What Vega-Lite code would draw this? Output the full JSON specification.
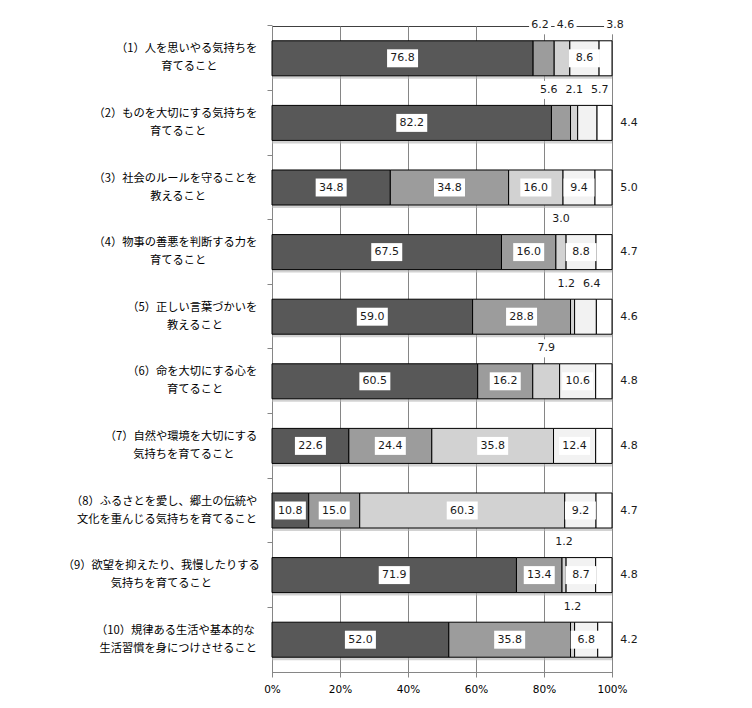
{
  "$schema": "https://vega.github.io/schema/vega-lite/v6.json",
  "width": 340,
  "height": 646,
  "autosize": "none",
  "padding": {"left": 272, "top": 26, "right": 140, "bottom": 36},
  "background": "white",
  "config": {"view": {"stroke": "#404040", "strokeWidth": 1}, "font": "DejaVu Sans"},
  "data": {
    "values": [
      {"item": "（1）人を思いやる気持ちを\n育てること", "s1": 76.8, "s2": 6.2, "s3": 4.6, "s4": 8.6, "s5": 3.8},
      {"item": "（2）ものを大切にする気持ちを\n育てること", "s1": 82.2, "s2": 5.6, "s3": 2.1, "s4": 5.7, "s5": 4.4},
      {"item": "（3）社会のルールを守ることを\n教えること", "s1": 34.8, "s2": 34.8, "s3": 16.0, "s4": 9.4, "s5": 5.0},
      {"item": "（4）物事の善悪を判断する力を\n育てること", "s1": 67.5, "s2": 16.0, "s3": 3.0, "s4": 8.8, "s5": 4.7},
      {"item": "（5）正しい言葉づかいを\n教えること", "s1": 59.0, "s2": 28.8, "s3": 1.2, "s4": 6.4, "s5": 4.6},
      {"item": "（6）命を大切にする心を\n育てること", "s1": 60.5, "s2": 16.2, "s3": 7.9, "s4": 10.6, "s5": 4.8},
      {"item": "（7）自然や環境を大切にする\n気持ちを育てること", "s1": 22.6, "s2": 24.4, "s3": 35.8, "s4": 12.4, "s5": 4.8},
      {"item": "（8）ふるさとを愛し、郷土の伝統や\n文化を重んじる気持ちを育てること", "s1": 10.8, "s2": 15.0, "s3": 60.3, "s4": 9.2, "s5": 4.7},
      {"item": "（9）欲望を抑えたり、我慢したりする\n気持ちを育てること", "s1": 71.9, "s2": 13.4, "s3": 1.2, "s4": 8.7, "s5": 4.8},
      {"item": "（10）規律ある生活や基本的な\n生活習慣を身につけさせること", "s1": 52.0, "s2": 35.8, "s3": 1.2, "s4": 6.8, "s5": 4.2}
    ]
  },
  "transform": [
    {"fold": ["s1", "s2", "s3", "s4", "s5"], "as": ["series", "value"]},
    {"stack": "value", "groupby": ["item"], "sort": [{"field": "series", "order": "ascending"}], "as": ["x0", "x1"]},
    {"calculate": "(datum.x0 + datum.x1) / 2", "as": "mid"},
    {"calculate": "datum.series == 's5' ? (indexof(datum.item, '（1）') == 0 ? 'corner' : 'right') : (datum.value < (datum.series == 's4' ? 6.5 : 10) ? 'above' : 'inside')", "as": "place"}
  ],
  "encoding": {
    "y": {
      "field": "item",
      "type": "nominal",
      "sort": null,
      "scale": {"type": "band", "paddingInner": 0.458, "paddingOuter": 0.229},
      "axis": {
        "title": null,
        "labelExpr": "isString(datum.label) && indexof(datum.label, '\\n') > 0 ? ['\u200b' + pad(split(datum.label, '\\n')[0], length(split(datum.label, '\\n')[0]) + 18 - max(length(split(datum.label, '\\n')[0]), length(split(datum.label, '\\n')[1])), '　', 'left'), '\u200b' + pad(split(datum.label, '\\n')[1], length(split(datum.label, '\\n')[1]) + 18 - max(length(split(datum.label, '\\n')[0]), length(split(datum.label, '\\n')[1])), '　', 'left')] : datum.label",
        "labelAlign": "center",
        "labelBaseline": "middle",
        "labelFont": "Noto Sans CJK JP",
        "labelFontSize": 11.25,
        "labelLineHeight": 18,
        "labelOffset": -9,
        "labelPadding": 106.25,
        "labelLimit": 0,
        "labelColor": "#000000",
        "bandPosition": -0.4229,
        "tickSize": 5,
        "tickColor": "#868686",
        "domainColor": "#868686",
        "grid": false
      }
    }
  },
  "layer": [
    {
      "transform": [{"filter": "datum.series == 's5'"}],
      "mark": {"type": "bar", "fill": "#b4b4b4", "opacity": 0.6, "yOffset": 3},
      "encoding": {
        "x": {"field": "x1", "type": "quantitative", "title": null, "scale": {"domain": [0, 100], "nice": false}},
        "x2": {"datum": 0}
      }
    },
    {
      "mark": {"type": "bar", "stroke": "#000000", "strokeWidth": 1},
      "encoding": {
        "x": {
          "field": "x0",
          "type": "quantitative",
          "scale": {"domain": [0, 100], "nice": false},
          "axis": {
            "title": null,
            "orient": "bottom",
            "grid": true,
            "values": [0, 20, 40, 60, 80, 100],
            "labelExpr": "datum.value + '%'",
            "labelFlush": false,
            "labelFont": "DejaVu Sans",
            "labelFontSize": 10.5,
            "labelColor": "#000000",
            "labelPadding": 7,
            "tickSize": 5,
            "tickColor": "#868686",
            "domainColor": "#868686",
            "gridColor": "#868686",
            "gridWidth": 1,
            "gridOpacity": 1
          }
        },
        "x2": {"field": "x1"},
        "fill": {
          "field": "series",
          "type": "nominal",
          "scale": {"domain": ["s1", "s2", "s3", "s4", "s5"], "range": ["#585858", "#9c9c9c", "#d2d2d2", "#f2f2f2", "#ffffff"]},
          "legend": null
        }
      }
    },
    {
      "transform": [{"filter": "datum.place == 'inside'"}],
      "layer": [
        {
          "mark": {"type": "point", "shape": "M-1,-0.58H1V0.58H-1Z", "size": 961, "filled": true, "fill": "#ffffff", "opacity": 1, "strokeWidth": 0},
          "encoding": {"x": {"field": "mid", "type": "quantitative", "title": null}}
        },
        {
          "mark": {"type": "text", "fontSize": 11, "font": "DejaVu Sans", "color": "#1a1a1a", "baseline": "middle", "align": "center"},
          "encoding": {
            "x": {"field": "mid", "type": "quantitative", "title": null},
            "text": {"field": "value", "type": "quantitative", "format": ".1f"}
          }
        }
      ]
    },
    {
      "transform": [
        {"filter": "datum.place == 'above'"},
        {"joinaggregate": [{"op": "mean", "field": "mid", "as": "cm"}, {"op": "count", "as": "n"}], "groupby": ["item"]},
        {"window": [{"op": "row_number", "as": "r"}], "sort": [{"field": "series", "order": "ascending"}], "groupby": ["item"]},
        {"calculate": "datum.cm + (datum.r - (datum.n + 1) / 2) * 7.5", "as": "lx"}
      ],
      "layer": [
        {
          "mark": {"type": "point", "shape": "M-1,-3.82H1V-2.18H-1Z", "size": 484, "filled": true, "fill": "#ffffff", "opacity": 1, "strokeWidth": 0},
          "encoding": {"x": {"field": "lx", "type": "quantitative", "title": null}}
        },
        {
          "mark": {"type": "text", "fontSize": 11, "font": "DejaVu Sans", "color": "#1a1a1a", "baseline": "middle", "align": "center", "dy": -33},
          "encoding": {
            "x": {"field": "lx", "type": "quantitative", "title": null},
            "text": {"field": "value", "type": "quantitative", "format": ".1f"}
          }
        }
      ]
    },
    {
      "transform": [
        {"filter": "datum.place == 'corner'"},
        {"calculate": "datum.x1 + 0.9", "as": "lx"}
      ],
      "layer": [
        {
          "mark": {"type": "point", "shape": "M-1,-3.82H1V-2.18H-1Z", "size": 484, "filled": true, "fill": "#ffffff", "opacity": 1, "strokeWidth": 0},
          "encoding": {"x": {"field": "lx", "type": "quantitative", "title": null}}
        },
        {
          "mark": {"type": "text", "fontSize": 11, "font": "DejaVu Sans", "color": "#1a1a1a", "baseline": "middle", "align": "center", "dy": -33},
          "encoding": {
            "x": {"field": "lx", "type": "quantitative", "title": null},
            "text": {"field": "value", "type": "quantitative", "format": ".1f"}
          }
        }
      ]
    },
    {
      "transform": [
        {"filter": "datum.place == 'right'"},
        {"calculate": "datum.x1 + 5", "as": "lx"}
      ],
      "mark": {"type": "text", "fontSize": 11, "font": "DejaVu Sans", "color": "#1a1a1a", "baseline": "middle", "align": "center"},
      "encoding": {
        "x": {"field": "lx", "type": "quantitative", "title": null},
        "text": {"field": "value", "type": "quantitative", "format": ".1f"}
      }
    }
  ]
}
